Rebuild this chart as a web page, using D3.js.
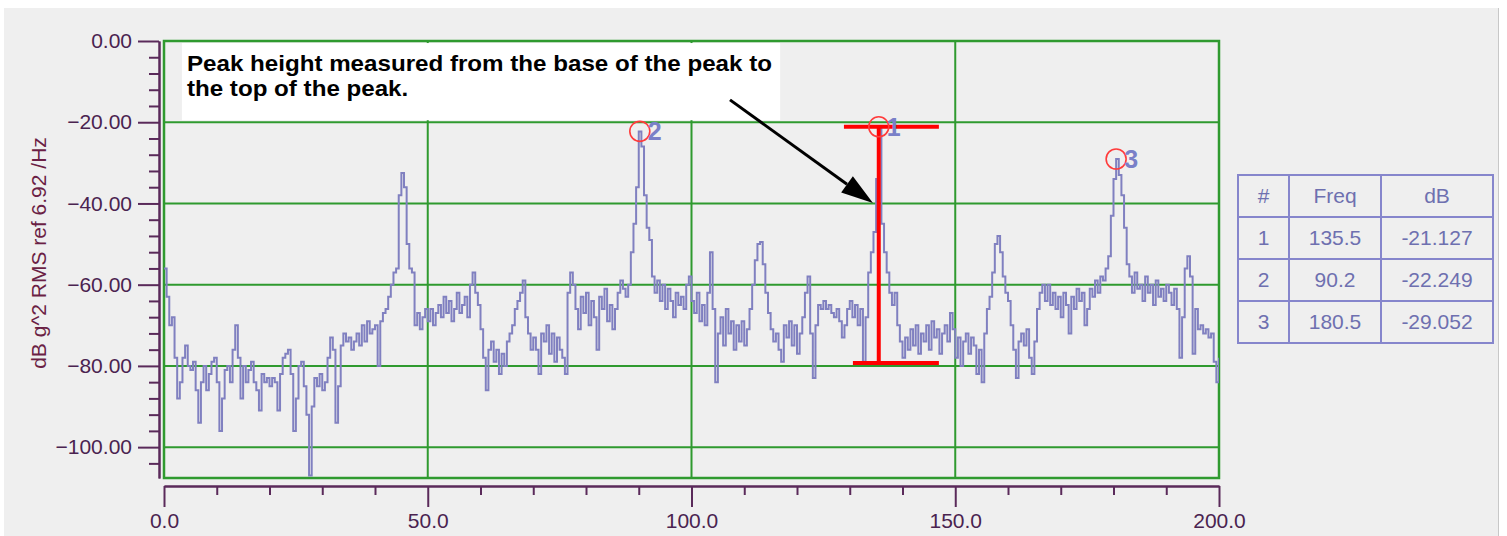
<!DOCTYPE html>
<html><head><meta charset="utf-8">
<script src="https://cdn.jsdelivr.net/npm/d3@7"></script>
<style>html,body{margin:0;padding:0;background:#fff;} svg{display:block;}</style>
</head><body>
<svg id="chart" width="1507" height="536"></svg>
<script>
// ---------- DATA ----------
const freqStart = 0;
const freqStep = 0.5;
const spectrumDb = [
 -56,-63,-70,-68,-78,-88,-84,-78,-75,-80,
 -81,-79,-86,-94,-84,-80,-86,-82,-79,-78,
 -84,-96,-88,-81,-80,-84,-76,-70,-78,-88,
 -80,-84,-81,-79,-84,-86,-91,-82,-84,-83,
 -85,-83,-84,-91,-82,-78,-77,-76,-82,-96,
 -88,-80,-79,-85,-92,-107,-90,-83,-85,-82,
 -86,-84,-78,-73,-76,-94,-85,-75,-72,-74,
 -73,-76,-74,-72,-75,-70,-74,-69,-72,-71,
 -70,-80,-69,-67,-66,-63,-60,-57,-56,-38,
 -32.5,-36,-50,-56,-57,-70,-67,-71,-68,-66,
 -69,-66,-70,-67,-65,-68,-63,-67,-64,-69,
 -66,-62,-67,-65,-63,-68,-60,-57,-62,-65,
 -71,-78,-86,-76,-74,-79,-76,-82,-77,-80,
 -74,-72,-70,-66,-64,-62,-59,-68,-72,-76,
 -73,-76,-82,-72,-74,-70,-77,-72,-79,-73,
 -76,-78,-82,-62,-57,-60,-66,-71,-63,-67,
 -62,-70,-64,-68,-76,-63,-66,-61,-69,-65,
 -71,-66,-62,-59,-61,-63,-60,-52,-45,-36,
 -22.3,-26,-38,-46,-49,-58,-62,-59,-64,-60,
 -66,-61,-64,-68,-62,-65,-63,-66,-60,-58,
 -64,-67,-62,-69,-65,-70,-62,-52,-66,-84,
 -72,-68,-75,-66,-72,-69,-76,-70,-74,-69,
 -75,-71,-66,-60,-54,-50,-49.5,-55,-62,-67,
 -71,-74,-72,-76,-79,-70,-73,-69,-75,-70,
 -77,-72,-68,-62,-58,-72,-83,-70,-65,-66,
 -64,-66,-65,-67,-68,-66,-69,-73,-70,-66,
 -64,-68,-65,-70,-66,-79,-68,-57,-52,-47,
 -34,-21.1,-45,-52,-57,-62,-65,-62,-70,-74,
 -78,-73,-76,-71,-75,-70,-77,-72,-74,-70,
 -76,-69,-73,-71,-77,-72,-70,-74,-67,-71,
 -78,-73,-80,-74,-72,-77,-73,-75,-82,-76,
 -84,-72,-66,-63,-57,-50,-48,-52,-58,-62,
 -64,-70,-76,-83,-74,-72,-75,-71,-78,-82,
 -74,-66,-62,-60,-64,-60,-65,-62,-66,-63,
 -68,-62,-65,-72,-63,-66,-61,-64,-62,-70,
 -66,-61,-63,-59,-62,-58,-59,-56,-53,-43,
 -34,-29.05,-33,-38,-46,-55,-58,-62,-57,-61,
 -60,-64,-58,-62,-60,-65,-59,-63,-61,-64,
 -60,-62,-65,-61,-66,-78,-68,-56,-53,-58,
 -77,-66,-71,-70,-72,-71,-73,-72,-79,-84,
 -78
];
const xTickValues = [0, 50, 100, 150, 200];
const xMinorTickValues = [10,20,30,40,60,70,80,90,110,120,130,140,160,170,180,190];
const yTickValues = [0, -20, -40, -60, -80, -100];
const yMinorTickValues = [-4,-8,-12,-16,-24,-28,-32,-36,-44,-48,-52,-56,-64,-68,-72,-76,-84,-88,-92,-96,-104];
const peakIds = ["1", "2", "3"];
const peakFreqs = [135.5, 90.2, 180.5];
const peakDbs = [-21.127, -22.249, -29.052];
const peakFreqLabels = ["135.5", "90.2", "180.5"];
const peakDbLabels = ["-21.127", "-22.249", "-29.052"];
const tableHeaders = ["#", "Freq", "dB"];
const markerBaseDb = -79.3;
const markerTopSpan = [128.9, 146.9];
const markerBottomSpan = [130.6, 146.9];
const arrowFrom = [107.3, -14.5];
const arrowTo = [134.4, -39.9];
const annotationLines = ["Peak height measured from the base of the peak to", "the top of the peak."];
const yTitle = "dB g^2 RMS ref 6.92 /Hz";

// ---------- LAYOUT ----------
const W = 1507, H = 536;
const plot = {left: 164, right: 1219, top: 41, bottom: 478};
const svg = d3.select("#chart");
const x = d3.scaleLinear().domain([0, 200]).range([plot.left, plot.right]);
const y = d3.scaleLinear().domain([0, -107.6]).range([plot.top, plot.bottom]);

const axisColor = "#5a2a5a";
const gridColor = "#2f9a2f";
const lineColor = "#8080c0";
const tickFont = "'Liberation Sans', Arial, sans-serif";

// background
svg.append("rect").attr("width", W).attr("height", H).attr("fill", "#ffffff");
svg.append("rect").attr("x", 4).attr("y", 8).attr("width", 1494).attr("height", H - 8).attr("fill", "#efefef");
svg.append("line").attr("x1", 1498.5).attr("x2", 1498.5).attr("y1", 8).attr("y2", H).attr("stroke", "#c8c8c8").attr("stroke-width", 1);

// grid
const grid = svg.append("g");
grid.selectAll(".gx").data(xTickValues.filter(d => d > 0 && d < 200)).enter().append("line")
  .attr("x1", d => x(d)).attr("x2", d => x(d)).attr("y1", plot.top).attr("y2", plot.bottom)
  .attr("stroke", gridColor).attr("stroke-width", 2);
grid.selectAll(".gy").data(yTickValues.filter(d => d < 0)).enter().append("line")
  .attr("x1", plot.left).attr("x2", plot.right).attr("y1", d => y(d)).attr("y2", d => y(d))
  .attr("stroke", gridColor).attr("stroke-width", 2);
grid.append("rect").attr("x", plot.left).attr("y", plot.top)
  .attr("width", plot.right - plot.left).attr("height", plot.bottom - plot.top)
  .attr("fill", "none").attr("stroke", gridColor).attr("stroke-width", 2.5);

// annotation box
const annX0 = x(3.4), annX1 = x(116.8);
svg.append("rect").attr("x", annX0).attr("y", y(-0.5)).attr("width", annX1 - annX0)
  .attr("height", y(-19.5) - y(-0.5)).attr("fill", "#ffffff");
const annText = svg.append("g").attr("font-family", "'Liberation Sans', Arial, sans-serif")
  .attr("font-weight", "bold").attr("font-size", 22).attr("fill", "#000");
const t1 = annText.append("text").attr("x", annX0 + 5).attr("y", 71).text(annotationLines[0]);
const t2 = annText.append("text").attr("x", annX0 + 5).attr("y", 96).text(annotationLines[1]);
const n1 = t1.node().getComputedTextLength(), n2 = t2.node().getComputedTextLength();
const annScale = 585 / n1;
t1.attr("textLength", 585).attr("lengthAdjust", "spacingAndGlyphs");
t2.attr("textLength", n2 * annScale).attr("lengthAdjust", "spacingAndGlyphs");

// clip
svg.append("clipPath").attr("id", "clip").append("rect")
  .attr("x", plot.left).attr("y", plot.top).attr("width", plot.right - plot.left).attr("height", plot.bottom - plot.top);

// spectrum
const line = d3.line()
  .x((d, i) => x(freqStart + i * freqStep))
  .y(d => y(d))
  .curve(d3.curveStepAfter);
svg.append("path").datum(spectrumDb).attr("clip-path", "url(#clip)")
  .attr("d", line).attr("fill", "none").attr("stroke", lineColor).attr("stroke-width", 2);

// red peak-height marker
const red = "#ff0000";
const mk = svg.append("g").attr("stroke", red).attr("stroke-width", 4);
mk.append("line").attr("x1", x(peakFreqs[0])).attr("x2", x(peakFreqs[0]))
  .attr("y1", y(peakDbs[0])).attr("y2", y(markerBaseDb));
mk.append("line").attr("x1", x(markerTopSpan[0])).attr("x2", x(markerTopSpan[1]))
  .attr("y1", y(peakDbs[0])).attr("y2", y(peakDbs[0]));
mk.append("line").attr("x1", x(markerBottomSpan[0])).attr("x2", x(markerBottomSpan[1]))
  .attr("y1", y(markerBaseDb)).attr("y2", y(markerBaseDb));

// peak circles & labels
svg.selectAll(".pc").data(peakFreqs).enter().append("circle")
  .attr("cx", d => x(d)).attr("cy", (d, i) => y(peakDbs[i])).attr("r", 10)
  .attr("fill", "none").attr("stroke", "#ff3b3b").attr("stroke-width", 1.6);
svg.selectAll(".pl").data(peakFreqs).enter().append("text")
  .attr("x", d => x(d) + 8).attr("y", (d, i) => y(peakDbs[i]) + 9)
  .attr("font-family", tickFont).attr("font-size", 25).attr("font-weight", "bold").attr("fill", "#7a80c8")
  .text((d, i) => peakIds[i]);

// arrow
const ax0 = x(arrowFrom[0]), ay0 = y(arrowFrom[1]), ax1 = x(arrowTo[0]), ay1 = y(arrowTo[1]);
const ang = Math.atan2(ay1 - ay0, ax1 - ax0);
const headLen = 32, headHalf = 10;
const bx = ax1 - headLen * Math.cos(ang), by = ay1 - headLen * Math.sin(ang);
svg.append("line").attr("x1", ax0).attr("y1", ay0).attr("x2", bx).attr("y2", by)
  .attr("stroke", "#000").attr("stroke-width", 3);
svg.append("path").attr("d", d3.line()([
  [ax1, ay1],
  [bx + headHalf * Math.sin(ang), by - headHalf * Math.cos(ang)],
  [bx - headHalf * Math.sin(ang), by + headHalf * Math.cos(ang)]
]) + "Z").attr("fill", "#000");

// axes
function styleAxis(g) {
  g.attr("font-family", null).attr("font-size", null);
  g.select(".domain").attr("stroke", axisColor).attr("stroke-width", 2);
  g.selectAll(".tick line").attr("stroke", axisColor).attr("stroke-width", 2);
  g.selectAll(".tick text").attr("fill", "#4a2350").attr("font-family", tickFont).attr("font-size", 21);
}
const yAxisX = 159;
const yAxis = svg.append("g").attr("transform", `translate(${yAxisX},0)`)
  .call(d3.axisLeft(y).tickValues(yTickValues).tickFormat(d3.format(".2f")).tickSize(21).tickSizeOuter(0).tickPadding(6));
styleAxis(yAxis);
const yMinor = svg.append("g").attr("transform", `translate(${yAxisX},0)`)
  .call(d3.axisLeft(y).tickValues(yMinorTickValues).tickFormat("").tickSize(10).tickSizeOuter(0));
styleAxis(yMinor);

const xAxisY = 486;
const xAxis = svg.append("g").attr("transform", `translate(0,${xAxisY})`)
  .call(d3.axisBottom(x).tickValues(xTickValues).tickFormat(d3.format(".1f")).tickSize(21).tickSizeOuter(0).tickPadding(6));
styleAxis(xAxis);
const xMinor = svg.append("g").attr("transform", `translate(0,${xAxisY})`)
  .call(d3.axisBottom(x).tickValues(xMinorTickValues).tickFormat("").tickSize(9).tickSizeOuter(0));
styleAxis(xMinor);

// y title
svg.append("text").attr("transform", `translate(46,${253}) rotate(-90)`)
  .attr("text-anchor", "middle").attr("font-family", tickFont).attr("font-size", 21)
  .attr("fill", "#6b1f45").text(yTitle);

// table
const tbl = {x0: 1238, x1: 1493, y0: 175, rowH: 42, cols: [1238, 1289, 1381, 1493]};
const tg = svg.append("g");
const nRows = peakIds.length + 1;
tg.append("rect").attr("x", tbl.x0).attr("y", tbl.y0).attr("width", tbl.x1 - tbl.x0)
  .attr("height", tbl.rowH * nRows).attr("fill", "none").attr("stroke", "#8686cc").attr("stroke-width", 2);
tbl.cols.slice(1, 3).forEach(c => tg.append("line").attr("x1", c).attr("x2", c)
  .attr("y1", tbl.y0).attr("y2", tbl.y0 + tbl.rowH * nRows).attr("stroke", "#8686cc").attr("stroke-width", 2));
d3.range(1, nRows).forEach(r => tg.append("line").attr("x1", tbl.x0).attr("x2", tbl.x1)
  .attr("y1", tbl.y0 + r * tbl.rowH).attr("y2", tbl.y0 + r * tbl.rowH).attr("stroke", "#8686cc").attr("stroke-width", 2));
const rows = [tableHeaders].concat(peakIds.map((id, i) => [id, peakFreqLabels[i], peakDbLabels[i]]));
rows.forEach((row, r) => row.forEach((cell, c) => {
  tg.append("text").attr("x", (tbl.cols[c] + tbl.cols[c + 1]) / 2)
    .attr("y", tbl.y0 + r * tbl.rowH + tbl.rowH / 2 + 7)
    .attr("text-anchor", "middle").attr("font-family", tickFont).attr("font-size", 21)
    .attr("fill", "#6e70b0").text(cell);
}));
</script>
</body></html>
